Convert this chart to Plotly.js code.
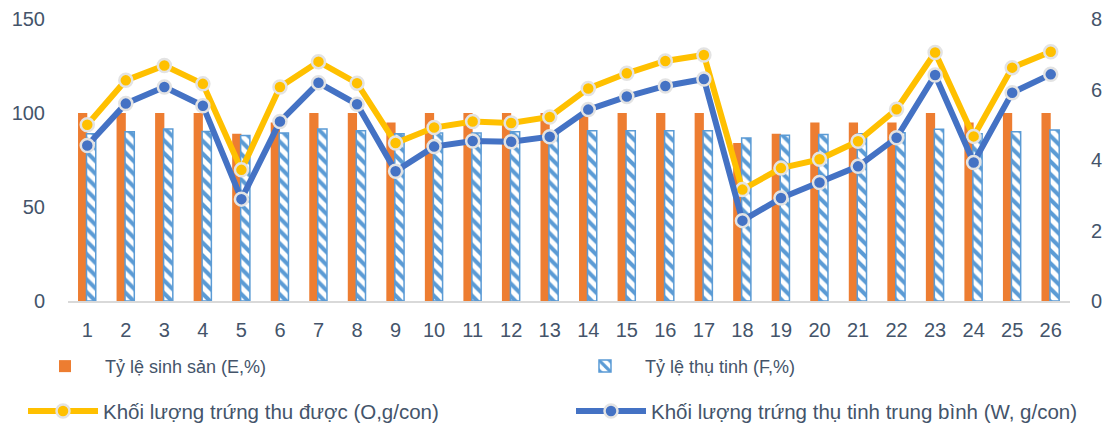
<!DOCTYPE html>
<html>
<head>
<meta charset="utf-8">
<script src="https://cdn.plot.ly/plotly-3.0.1.min.js"></script>
<style>
  html, body { margin: 0; padding: 0; background: #fff; }
  #chart { width: 1110px; height: 423px; }
</style>
</head>
<body>
<div id="chart"></div>
<script>
// Categories (x tick labels)
var categories = ['1','2','3','4','5','6','7','8','9','10','11','12','13','14','15','16','17','18','19','20','21','22','23','24','25','26'];

// Tỷ lệ sinh sản (E,%) – left axis
var seriesE = [100,100,100,100,89,95,100,100,95,100,100,100,100,100,100,100,100,84,89,95,95,95,100,95,100,100];

// Tỷ lệ thụ tinh (F,%) – left axis
var seriesF = [89,90,91.5,90.2,88,89.4,91.5,90.6,89,89.4,89.4,90,90,90.6,90.6,90.6,90.6,86.7,88.1,88.6,89,89.5,91.3,89,90,91];

// Khối lượng trứng thu được (O,g/con) – right axis
var seriesO = [5.0,6.26,6.68,6.16,3.72,6.07,6.79,6.18,4.48,4.92,5.09,5.05,5.22,6.03,6.46,6.81,6.98,3.16,3.77,4.02,4.53,5.44,7.05,4.67,6.62,7.07];

// Khối lượng trứng thụ tinh trung bình (W, g/con) – right axis
var seriesW = [4.41,5.60,6.07,5.54,2.89,5.09,6.19,5.58,3.68,4.38,4.54,4.52,4.66,5.43,5.80,6.10,6.30,2.28,2.92,3.36,3.82,4.63,6.41,3.93,5.91,6.43];

var leftTicks = [0,50,100,150];
var rightTicks = [0,2,4,6,8];

var textColor = '#44546A';
var fontFamily = '"Liberation Sans", Arial, sans-serif';

var traces = [
  {
    type: 'bar', name: 'Tỷ lệ sinh sản (E,%)',
    x: categories, y: seriesE, yaxis: 'y',
    width: 0.24, offset: -0.24,
    marker: { color: '#ED7D31', line: { width: 0 } },
    legend: 'legend'
  },
  {
    type: 'bar', name: 'Tỷ lệ thụ tinh (F,%)',
    x: categories, y: seriesF, yaxis: 'y',
    width: 0.24, offset: -0.02,
    marker: {
      color: '#ffffff',
      line: { color: '#5B9BD5', width: 1.5 },
      pattern: { shape: '\\', fgcolor: '#5B9BD5', bgcolor: '#ffffff', size: 9, solidity: 0.45 }
    },
    legend: 'legend2'
  },
  {
    type: 'scatter', mode: 'lines+markers', name: 'Khối lượng trứng thu được (O,g/con)',
    x: categories, y: seriesO, yaxis: 'y2',
    line: { color: '#FFC000', width: 6 },
    marker: { color: '#FFC000', size: 13, line: { color: '#E3E3E3', width: 2.5 } },
    legend: 'legend3'
  },
  {
    type: 'scatter', mode: 'lines+markers', name: 'Khối lượng trứng thụ tinh trung bình (W, g/con)',
    x: categories, y: seriesW, yaxis: 'y2',
    line: { color: '#4472C4', width: 6 },
    marker: { color: '#4472C4', size: 13, line: { color: '#E3E3E3', width: 2.5 } },
    legend: 'legend4'
  }
];

function legendBox(x, y, size) {
  return {
    orientation: 'h', x: x, xanchor: 'left', y: y, yanchor: 'middle',
    itemwidth: 70,
    font: { size: size, color: textColor, family: fontFamily },
    bgcolor: 'rgba(0,0,0,0)', borderwidth: 0
  };
}

var layout = {
  width: 1110, height: 423,
  margin: { l: 68, r: 40, t: 19, b: 121.5, pad: 0, autoexpand: false },
  paper_bgcolor: '#ffffff', plot_bgcolor: '#ffffff',
  font: { family: fontFamily, color: textColor, size: 20 },
  barmode: 'overlay',
  showlegend: true,
  xaxis: {
    type: 'category', range: [-0.5, categories.length - 0.5],
    showgrid: false, zeroline: false,
    showline: true, linecolor: '#D9D9D9', linewidth: 1.5,
    ticks: '', ticklabelstandoff: 10,
    tickfont: { size: 20, color: textColor, family: fontFamily }
  },
  yaxis: {
    range: [0, 150], tickvals: leftTicks,
    showgrid: false, zeroline: false, showline: false,
    ticks: '', ticklabelstandoff: 22,
    tickfont: { size: 20, color: textColor, family: fontFamily }
  },
  yaxis2: {
    range: [0, 8], tickvals: rightTicks,
    overlaying: 'y', side: 'right',
    showgrid: false, zeroline: false, showline: false,
    ticks: '', ticklabelstandoff: 20,
    tickfont: { size: 20, color: textColor, family: fontFamily }
  },
  legend: legendBox(-0.0429, -0.232, 18),
  legend2: legendBox(0.496, -0.232, 18),
  legend3: legendBox(-0.0449, -0.391, 20.5),
  legend4: legendBox(0.502, -0.391, 20.5)
};

Plotly.newPlot('chart', traces, layout, { displayModeBar: false, staticPlot: true });
</script>
</body>
</html>
